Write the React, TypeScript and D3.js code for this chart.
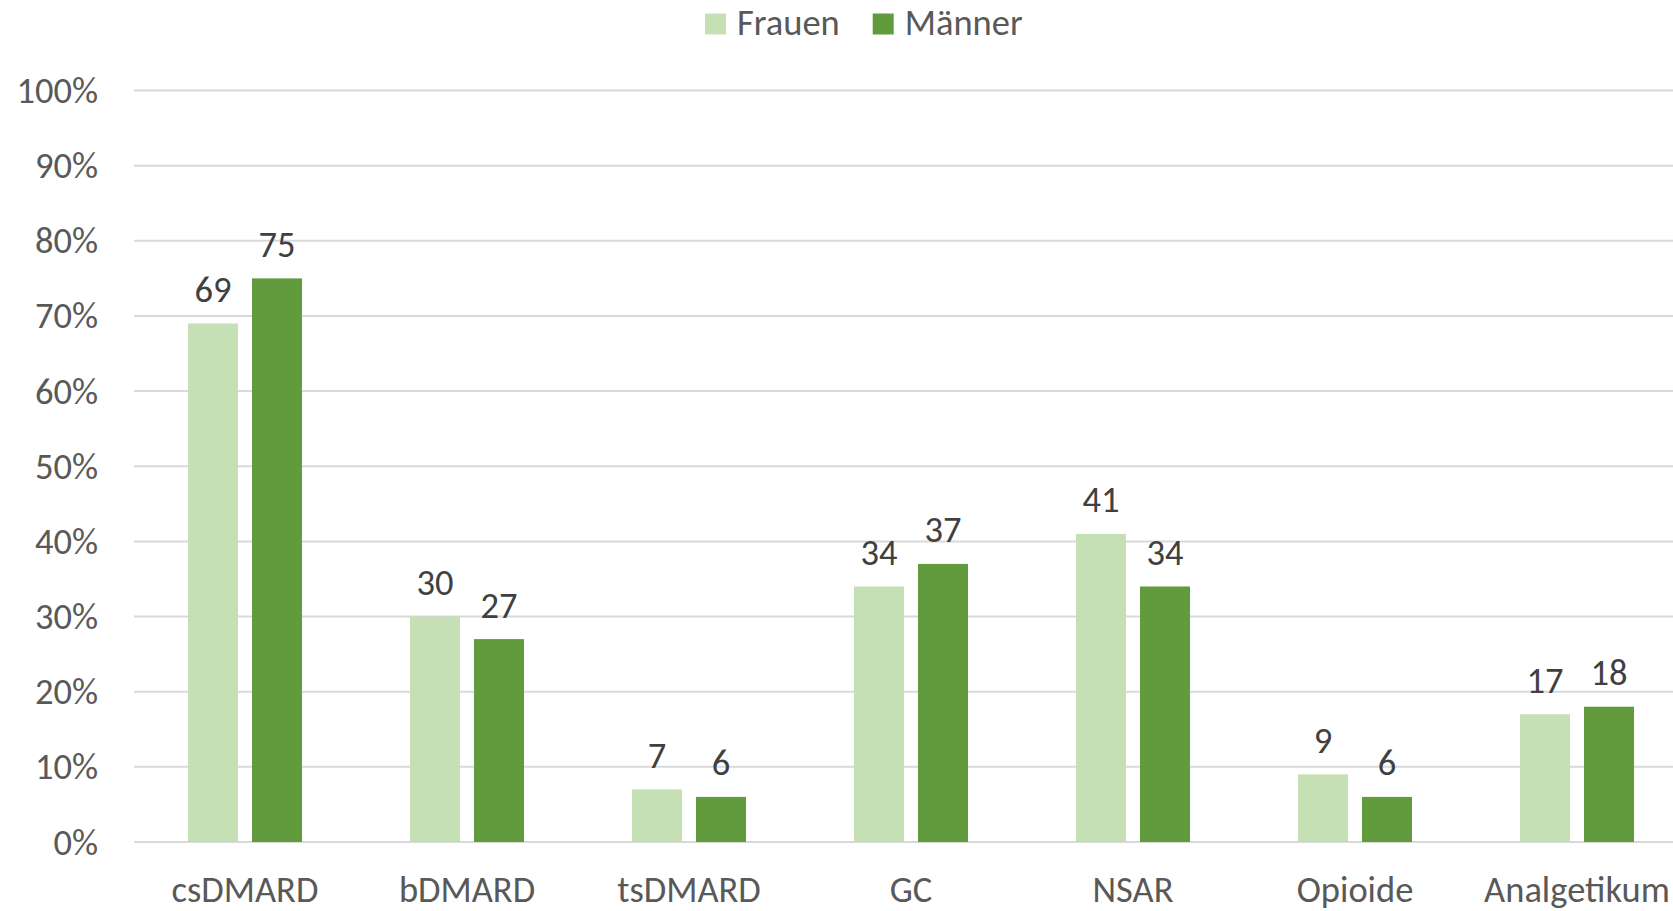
import React from "react";
import * as d3 from "d3";

const categories = ["csDMARD", "bDMARD", "tsDMARD", "GC", "NSAR", "Opioide", "Analgetikum"];
const seriesNames = ["Frauen", "Männer"];
const frauen = [69, 30, 7, 34, 41, 9, 17];
const maenner = [75, 27, 6, 37, 34, 6, 18];
const yTicks = [0, 10, 20, 30, 40, 50, 60, 70, 80, 90, 100];
const colors = ["#c5e0b4", "#629a3e"];

const W = 1673;
const H = 911;
const FONT = "Carlito, Calibri, 'Open Sans', sans-serif";
const FS = 36.5;

export default function App() {
  const x0 = d3.scaleBand<string>().domain(categories).range([134, 1688]).padding(0);
  const y = d3.scaleLinear().domain([0, 100]).range([842, 90.5]);
  const series = [frauen, maenner];

  return (
    <svg
      width={W}
      height={H}
      style={{ position: "absolute", left: 0, top: 0, display: "block", background: "#fff" }}
      fontFamily={FONT}
    >
      {/* gridlines */}
      {yTicks.map((t) => (
        <line key={"g" + t} x1={134} x2={W} y1={y(t)} y2={y(t)} stroke="#d9d9d9" strokeWidth={2} />
      ))}
      {/* y tick labels */}
      {yTicks.map((t) => (
        <text key={"t" + t} x={98} y={y(t) + 12.5} textAnchor="end" fontSize={FS} fill="#595959">
          {t + "%"}
        </text>
      ))}
      {/* bars */}
      {categories.map((c, i) => {
        const cx = (x0(c) as number) + x0.bandwidth() / 2;
        const x1 = d3
          .scaleBand<string>()
          .domain(seriesNames)
          .range([cx - 57, cx + 57])
          .paddingInner(0.21875)
          .paddingOuter(0);
        return (
          <g key={c}>
            {seriesNames.map((s, k) => {
              const v = series[k][i];
              const bx = x1(s) as number;
              return (
                <g key={s}>
                  <rect x={bx} y={y(v)} width={x1.bandwidth()} height={y(0) - y(v)} fill={colors[k]} />
                  <text
                    x={bx + x1.bandwidth() / 2}
                    y={y(v) - 21.5}
                    textAnchor="middle"
                    fontSize={FS}
                    fill="#404040"
                  >
                    {v}
                  </text>
                </g>
              );
            })}
            <text x={cx} y={902} textAnchor="middle" fontSize={FS} fill="#595959">
              {c}
            </text>
          </g>
        );
      })}
      {/* legend */}
      {seriesNames.map((s, k) => {
        const lx = k === 0 ? 705 : 872.7;
        return (
          <g key={"l" + s}>
            <rect x={lx} y={13.5} width={21} height={21} fill={colors[k]} />
            <text x={lx + 32} y={35} fontSize={FS} fill="#595959">
              {s}
            </text>
          </g>
        );
      })}
    </svg>
  );
}
